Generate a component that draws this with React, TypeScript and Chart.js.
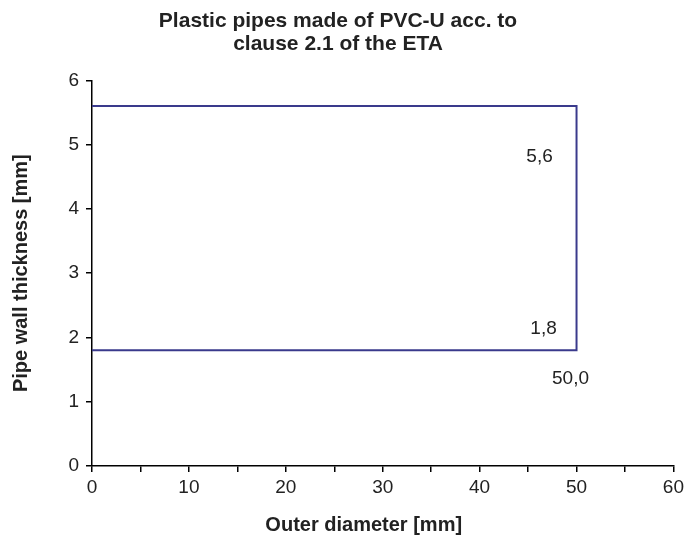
import React, { useEffect, useRef } from "react";
import { Chart, registerables } from "chart.js";

Chart.register(...registerables);

const titleLines = ["Plastic pipes made of PVC-U acc. to", "clause 2.1 of the ETA"];
const xTitle = "Outer diameter [mm]";
const yTitle = "Pipe wall thickness [mm]";
const xValues = [0, 50, 50, 0];
const yValues = [5.6, 5.6, 1.8, 1.8];
const labelTexts = ["5,6", "1,8", "50,0"];
const labelPointIndex = [1, 2, 2];

const FONT = "'Liberation Sans', Arial, sans-serif";
const LINE_COLOR = "#3a3a8c";
const TEXT_COLOR = "#222";

const labelPlugin = {
  id: "valueLabels",
  afterDatasetsDraw(chart: any) {
    const { ctx, scales, chartArea } = chart;
    const offsets = [
      [-37, 51],
      [-33, -22],
      [-6, 28],
    ];
    ctx.save();
    ctx.font = `19px ${FONT}`;
    ctx.fillStyle = TEXT_COLOR;
    ctx.textAlign = "center";
    ctx.textBaseline = "middle";
    labelTexts.forEach((t, i) => {
      const idx = labelPointIndex[i];
      const px = scales.x.getPixelForValue(xValues[idx]);
      const py = scales.y.getPixelForValue(yValues[idx]);
      ctx.fillText(t, px + offsets[i][0], py + offsets[i][1]);
    });
    // x axis title
    ctx.font = `bold 20px ${FONT}`;
    const cx = (chartArea.left + chartArea.right) / 2 - 19;
    ctx.fillText(xTitle, cx, scales.x.bottom - 15);
    ctx.restore();
  },
};

export default function App() {
  const ref = useRef<HTMLCanvasElement>(null);
  useEffect(() => {
    if (!ref.current) return;
    const chart = new Chart(ref.current, {
      type: "scatter",
      data: {
        datasets: [
          {
            data: xValues.map((x, i) => ({ x, y: yValues[i] })),
            showLine: true,
            borderColor: LINE_COLOR,
            borderWidth: 2,
            pointRadius: 0,
            fill: false,
            tension: 0,
          },
        ],
      },
      options: {
        animation: false,
        responsive: true,
        maintainAspectRatio: false,
        layout: { padding: { left: 0, right: 12, top: 0, bottom: 0 } },
        plugins: {
          legend: { display: false },
          tooltip: { enabled: false },
          title: {
            display: true,
            text: titleLines,
            color: TEXT_COLOR,
            font: { family: FONT, size: 21, weight: "bold", lineHeight: 1.08 },
            padding: { top: 10, bottom: 25 },
          },
        },
        scales: {
          x: {
            type: "linear",
            min: 0,
            max: 60,
            afterFit: (s: any) => {
              s.height = 74;
            },
            border: { display: true, color: "#000", width: 1.5 },
            grid: {
              display: true,
              drawOnChartArea: false,
              drawTicks: true,
              tickLength: 6,
              color: "#000",
              lineWidth: 1.5,
            },
            ticks: {
              stepSize: 5,
              autoSkip: false,
              maxRotation: 0,
              color: TEXT_COLOR,
              padding: 4,
              font: { family: FONT, size: 19 },
              callback: (v: any) => (Number(v) % 10 === 0 ? String(v) : ""),
            },
            title: { display: false },
          },
          y: {
            type: "linear",
            min: 0,
            max: 6,
            afterFit: (s: any) => {
              s.width = 92;
            },
            border: { display: true, color: "#000", width: 1.5 },
            grid: {
              display: true,
              drawOnChartArea: false,
              drawTicks: true,
              tickLength: 6,
              color: "#000",
              lineWidth: 1.5,
            },
            ticks: {
              stepSize: 1,
              color: TEXT_COLOR,
              padding: 7,
              font: { family: FONT, size: 19 },
            },
            title: {
              display: true,
              text: yTitle,
              color: TEXT_COLOR,
              font: { family: FONT, size: 20, weight: "bold" },
              padding: { top: 9, bottom: 0 },
            },
          },
        },
      },
      plugins: [labelPlugin],
    });
    return () => chart.destroy();
  }, []);
  return (
    <div style={{ position: "absolute", left: 0, top: 0, width: 688, height: 540, background: "#fff" }}>
      <canvas ref={ref} />
    </div>
  );
}
